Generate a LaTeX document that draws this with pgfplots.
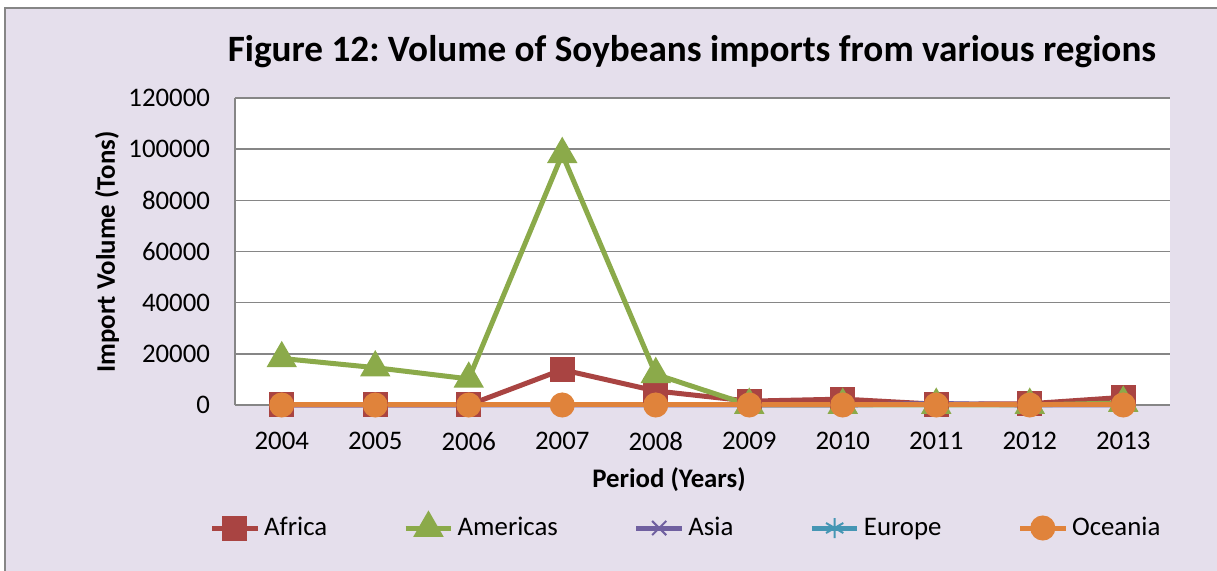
\documentclass[border=0pt]{standalone}
\usepackage{pgfplots}
\pgfplotsset{compat=1.18}
\usepackage{fontspec}
\setmainfont{Carlito}
\frenchspacing

\definecolor{bgc}{HTML}{E5DFEC}
\definecolor{africa}{HTML}{A94442}
\definecolor{americas}{HTML}{8BAA4A}
\definecolor{asia}{HTML}{7060A0}
\definecolor{europe}{HTML}{4596B4}
\definecolor{oceania}{HTML}{E0833B}
\definecolor{gridc}{HTML}{868686}

\begin{document}
\begin{tikzpicture}
% canvas 1217x571 px, 1px = 0.5pt
\useasboundingbox (0,0) rectangle (608.5pt,-285.5pt);
\fill[white] (0,0) rectangle (608.5pt,-285.5pt);
\begin{scope}
\clip (0,0) rectangle (608.5pt,-285.5pt);
\draw[gridc, line width=1pt, fill=bgc] (2.5pt,-4pt) rectangle (615pt,-295pt);
\end{scope}

\begin{axis}[
  at={(117.5pt,-202.5pt)}, anchor=south west,
  width=467.5pt, height=153.5pt, scale only axis,
  xmin=-0.5, xmax=9.5, ymin=0, ymax=120000,
  axis background/.style={fill=white},
  axis x line*=bottom, axis y line*=left,
  axis line style={gridc, line width=0.8pt, -},
  xtick={0,...,9},
  xticklabels={2004,2005,2006,2007,2008,2009,2010,2011,2012,2013},
  ytick={0,20000,...,120000},
  scaled y ticks=false,
  /pgf/number format/fixed,
  /pgf/number format/1000 sep={},
  /pgf/number format/assume math mode=true,
  major tick length=0pt,
  ymajorgrids, grid style={gridc, line width=0.8pt},
  tick label style={font=\fontsize{13.4}{16}\selectfont, black},
  xticklabel style={yshift=-10pt},
  yticklabel style={xshift=-9pt},
  every axis plot/.append style={line width=2.5pt},
  legend columns=5,
  legend style={at={(0.4834,-0.4007)}, anchor=center, draw=none, fill=none,
    font=\fontsize{13.4}{16}\selectfont, inner sep=0pt,
    /tikz/every even column/.append style={column sep=36pt}},
  legend cell align=left,
  legend image code/.code={\draw[mark repeat=2,mark phase=2] plot coordinates {(0cm,0cm)(0.4cm,0cm)(0.8cm,0cm)};},
  clip=false,
]
\addplot[africa, mark=square*, mark size=5pt, mark options={solid}] coordinates {
  (0,0) (1,0) (2,0) (3,13800) (4,5500) (5,1500) (6,2300) (7,300) (8,500) (9,3000)};
\addplot[americas, mark=triangle*, mark size=6.3pt] coordinates {
  (0,18200) (1,14600) (2,10200) (3,98000) (4,12000) (5,0) (6,0) (7,0) (8,0) (9,800)};
\addplot[asia, mark=x, mark size=5pt, mark options={line width=1pt}] coordinates {
  (0,0) (1,0) (2,0) (3,0) (4,0) (5,0) (6,0) (7,600) (8,0) (9,0)};
\addplot[europe, mark=asterisk, mark size=5pt, mark options={line width=1pt}] coordinates {
  (0,0) (1,0) (2,0) (3,0) (4,0) (5,0) (6,0) (7,0) (8,0) (9,0)};
\addplot[oceania, mark=*, mark size=5pt] coordinates {
  (0,0) (1,0) (2,0) (3,0) (4,0) (5,0) (6,0) (7,0) (8,0) (9,0)};
\legend{Africa,Americas,Asia,Europe,Oceania}
\end{axis}

\node[font=\fontsize{18.6}{22}\selectfont\bfseries] at (346pt,-26pt) {Figure 12: Volume of Soybeans imports from various regions};
\node[font=\fontsize{13.4}{16}\selectfont\bfseries, rotate=90] at (53.5pt,-126pt) {Import Volume (Tons)};
\node[font=\fontsize{13.4}{16}\selectfont\bfseries] at (334.5pt,-240pt) {Period (Years)};
\end{tikzpicture}
\end{document}
